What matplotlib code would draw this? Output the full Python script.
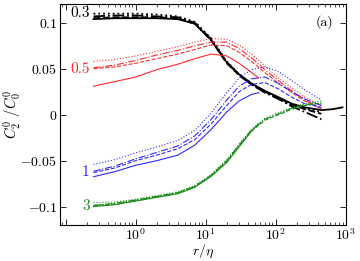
import numpy as np
import matplotlib
matplotlib.use("Agg")
import matplotlib.pyplot as plt
from matplotlib.ticker import FuncFormatter, FixedLocator, LogLocator

plt.rcParams['mathtext.fontset'] = 'cm'
plt.rcParams['font.family'] = 'serif'
plt.rcParams['font.serif'] = ['cmr10', 'DejaVu Serif']
plt.rcParams['axes.unicode_minus'] = False

# separation points r/eta
r_short = [0.25, 0.5, 1, 2, 4, 7, 12, 20, 30, 45, 57]
r_long = [0.25, 0.5, 1, 2, 4, 7, 12, 20, 30, 45, 70, 110, 170, 260, 450]
r_black = r_long + [650, 900]

# 0.3 (black)
k_solid = [.104, .105, .105, .105, .104, .099, .081, .057, .044, .034, .026, .019, .012, .008, .005, .006, .008]
k_dash = [.105, .106, .106, .106, .105, .099, .081, .056, .043, .033, .025, .018, .011, .006, .001]
k_dashdot = [.107, .108, .108, .107, .106, .100, .082, .057, .043, .033, .024, .017, .009, .003, -.005]
k_dot = [.110, .110, .110, .109, .107, .101, .083, .058, .044, .034, .025, .018, .011, .007, .003]

# 0.5 (red)
r_solid = [.031, .036, .041, .049, .055, .061, .066, .064, .056, .046, .040]
r_dash = [.050, .052, .056, .061, .066, .071, .076, .075, .068, .058, .046, .034, .024, .015, .007]
r_dashdot = [.051, .054, .059, .065, .070, .075, .079, .079, .072, .062, .049, .037, .026, .016, .006]
r_dot = [.058, .060, .064, .069, .074, .079, .083, .082, .076, .066, .053, .040, .029, .019, .010]

# 1 (blue)
b_solid = [-.0675, -.062, -.055, -.050, -.044, -.033, -.016, .003, .015, .022, .024]
b_dash = [-.063, -.058, -.050, -.044, -.037, -.027, -.010, .010, .025, .033, .035, .028, .019, .012, .008]
b_dashdot = [-.0615, -.056, -.048, -.041, -.034, -.023, -.005, .016, .031, .039, .041, .034, .025, .017, .010]
b_dot = [-.054, -.049, -.0415, -.035, -.028, -.017, .002, .024, .040, .049, .052, .047, .037, .027, .016]

# 3 (green)
g_solid = [-.100, -.098, -.094, -.090, -.086, -.079, -.067, -.052, -.035, -.018, -.010]
g_dash = [-.099, -.097, -.093, -.089, -.085, -.078, -.066, -.051, -.034, -.018, -.006, .000, .006, .010, .013]
g_dashdot = [-.0985, -.0965, -.093, -.089, -.085, -.078, -.066, -.050, -.033, -.017, -.005, .001, .007, .011, .012]
g_dot = [-.0955, -.095, -.092, -.088, -.084, -.077, -.065, -.049, -.032, -.016, -.004, .002, .008, .012, .015]

groups = [
    ('0.3', 'black', [k_solid, k_dash, k_dashdot, k_dot], 0.111),
    ('0.5', '#ff2a2a', [r_solid, r_dash, r_dashdot, r_dot], 0.050),
    ('1', '#2a2aff', [b_solid, b_dash, b_dashdot, b_dot], -0.062),
    ('3', '#1a8c1a', [g_solid, g_dash, g_dashdot, g_dot], -0.0995),
]
styles = ['-', '--', '-.', ':']

fig = plt.figure(figsize=(3.6, 2.61), dpi=100)
ax = fig.add_axes([0.1667, 0.138, 0.7936, 0.845])

for label, color, series, ylab in groups:
    for i, (vals, ls) in enumerate(zip(series, styles)):
        if i == 0:
            rr = r_black if color == 'black' else r_short
        else:
            rr = r_long
        lw = 1.3 if color == 'black' else 0.8
        ax.plot(rr[:len(vals)], vals, ls=ls, color=color, lw=lw)
    ax.text(0.22, ylab, label, color=color, fontsize=11, ha='right', va='center')

ax.set_xscale('log')
ax.set_xlim(0.083, 1000)
ax.set_ylim(-0.12, 0.12)
ax.yaxis.set_major_locator(FixedLocator([-0.1, -0.05, 0, 0.05, 0.1]))
ax.yaxis.set_major_formatter(FuncFormatter(lambda v, p: '$%g$' % round(v, 3)))
ax.xaxis.set_major_locator(LogLocator(base=10, numticks=10))
ax.xaxis.set_minor_locator(LogLocator(base=10, subs=np.arange(2, 10), numticks=20))
ax.xaxis.set_major_formatter(FuncFormatter(
    lambda v, p: '$10^{%d}$' % round(np.log10(v)) if v >= 0.99 else ''))
ax.tick_params(which='both', direction='in', top=True, right=True, labelsize=10, pad=2)
ax.tick_params(which='major', length=4, width=0.6)
ax.tick_params(which='minor', length=2, width=0.5)
for s in ax.spines.values():
    s.set_linewidth(0.8)

ax.set_xlabel(r'$r/\eta$', fontsize=10)
ax.xaxis.set_label_coords(0.5, -0.082)
ax.set_ylabel(r'$C_2^0\ /C_0^0$', fontsize=10.5)
ax.yaxis.set_label_coords(-0.125, 0.5)
ax.text(0.957, 0.92, '(a)', transform=ax.transAxes, fontsize=10, ha='right', va='center')

fig.savefig('out.png', dpi=100)
